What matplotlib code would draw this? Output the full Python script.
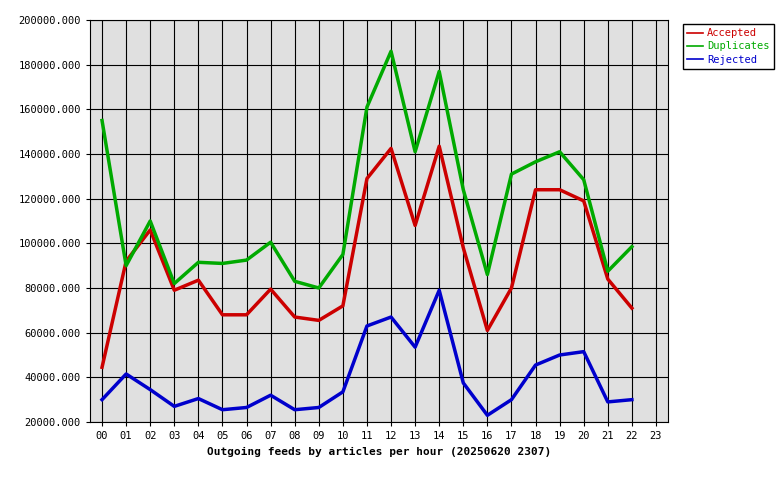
import matplotlib
matplotlib.use("Agg")
import matplotlib.pyplot as plt

hours = ["%02d" % h for h in range(24)]
accepted = [44500, 92000, 106000, 79000, 83500, 68000, 68000, 79500, 67000, 65500, 72000, 129000,
            142500, 108000, 143500, 98000, 61000, 80000, 124000, 124000, 119000, 84000, 71000]
duplicates = [155000, 90000, 110000, 82000, 91500, 91000, 92500, 100500, 83000, 80000, 95000, 161000,
              186000, 141000, 177000, 124000, 86000, 131000, 136500, 141000, 128500, 87500, 98500]
rejected = [30000, 41500, 34500, 27000, 30500, 25500, 26500, 32000, 25500, 26500, 33500, 63000,
            67000, 53500, 79000, 37500, 23000, 30000, 45500, 50000, 51500, 29000, 30000]
yticks = list(range(20000, 200001, 20000))

plt.rcParams['font.family'] = ['DejaVu Sans Mono']
fig = plt.figure(figsize=(7.8, 4.8), dpi=100)
ax = fig.add_axes([90/780, 58/480, 578/780, 402/480])
ax.set_facecolor('#e0e0e0')
x = list(range(len(accepted)))
ax.plot(x, accepted, color='#cc0000', lw=2.5, label='Accepted')
ax.plot(x, duplicates, color='#00aa00', lw=2.5, label='Duplicates')
ax.plot(x, rejected, color='#0000cc', lw=2.5, label='Rejected')
ax.set_xlim(-0.5, 23.5)
ax.set_ylim(20000, 200000)
ax.set_xticks(range(24))
ax.set_xticklabels(hours, fontsize=7.5)
ax.set_yticks(yticks)
ax.set_yticklabels(["%d.000" % v for v in yticks], fontsize=7.5)
ax.grid(True, color='black', lw=0.8)
ax.set_axisbelow(True)
ax.tick_params(length=3)
ax.set_xlabel("Outgoing feeds by articles per hour (20250620 2307)", fontsize=8, fontweight='bold')
leg = fig.legend(loc='upper left', bbox_to_anchor=(678/780, 1-19/480), fontsize=7.5,
                 fancybox=False, edgecolor='black', handlelength=1.5, borderpad=0.4,
                 labelspacing=0.3, handletextpad=0.4, framealpha=1)
for t, c in zip(leg.get_texts(), ['#cc0000', '#00aa00', '#0000cc']):
    t.set_color(c)
for l in leg.get_lines():
    l.set_linewidth(1.2)
fig.savefig('out.png', dpi=100)
